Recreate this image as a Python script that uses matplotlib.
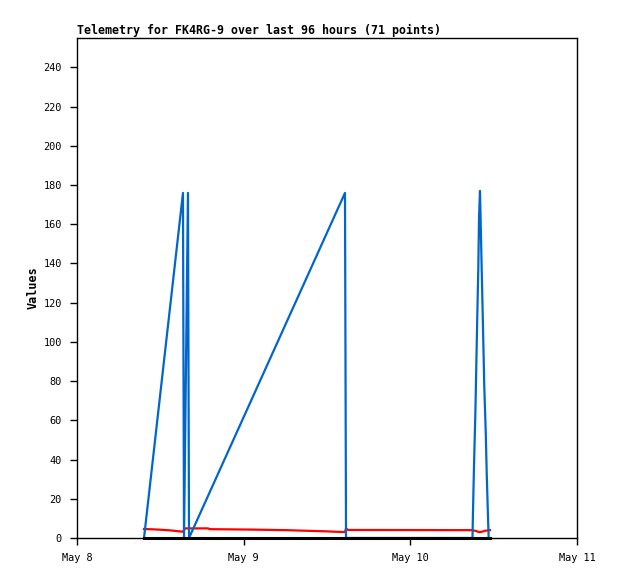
import matplotlib
matplotlib.use('Agg')
import matplotlib.pyplot as plt

# hours since May 8 00:00
BLUE_T = [9.65, 15.26, 15.41, 15.98, 16.13, 38.59, 38.74, 56.95, 57.02, 57.17, 57.36,
          57.50, 57.64, 57.79, 57.89, 58.03, 58.10, 58.32, 58.51, 58.65, 58.85,
          59.00, 59.14, 59.28]
BLUE_V = [0, 176, 0, 176, 0, 176, 0, 0, 13, 37, 63,
          88, 113, 138, 163, 177, 166, 130, 100, 77, 55,
          33, 16, 0]

RED_T = [9.65, 11.66, 13.39, 15.26, 15.55, 18.86, 19.15, 24.91, 30.10, 35.86, 38.59,
         38.74, 39.02, 56.88, 57.46, 57.89, 58.32, 58.75, 59.47]
RED_V = [4.6, 4.3, 3.9, 3.2, 4.9, 4.9, 4.5, 4.3, 4.0, 3.4, 3.0,
         4.9, 4.1, 4.0, 3.6, 3.0, 3.2, 3.7, 4.0]

BLACK_T = [9.65, 15.26, 38.74, 59.47]
BLACK_V = [0, 0, 0, 0]

XTICKS = [0, 24, 48, 72]
XLABELS = ["May 8", "May 9", "May 10", "May 11"]
YTICKS = list(range(0, 241, 20))

TITLE = "Telemetry for FK4RG-9 over last 96 hours (71 points)"

plt.rcParams['font.family'] = ['DejaVu Sans Mono']
plt.rcParams['font.size'] = 7.4

fig = plt.figure(figsize=(6.18, 5.79), dpi=100)
ax = fig.add_axes([77/618, 41/579, 500/618, 500/579])

ax.plot(RED_T, RED_V, color='#ff0000', lw=1.6)
ax.plot(BLUE_T, BLUE_V, color='#0066cc', lw=1.6)
ax.plot(BLACK_T, BLACK_V, color='black', lw=2.2, clip_on=False)

ax.set_xlim(0, 72)
ax.set_ylim(0, 255)
ax.set_xticks(XTICKS)
ax.set_xticklabels(XLABELS)
ax.set_yticks(YTICKS)
ax.tick_params(direction='out', length=5, width=1, pad=6)
ax.tick_params(top=False, right=False)
for s in ax.spines.values():
    s.set_linewidth(1)

ax.set_title(TITLE, loc='left', fontweight='bold', fontsize=8.4, pad=3)
ax.set_ylabel("Values", fontweight='bold', fontsize=8.5, labelpad=3)

plt.savefig("out.png")
